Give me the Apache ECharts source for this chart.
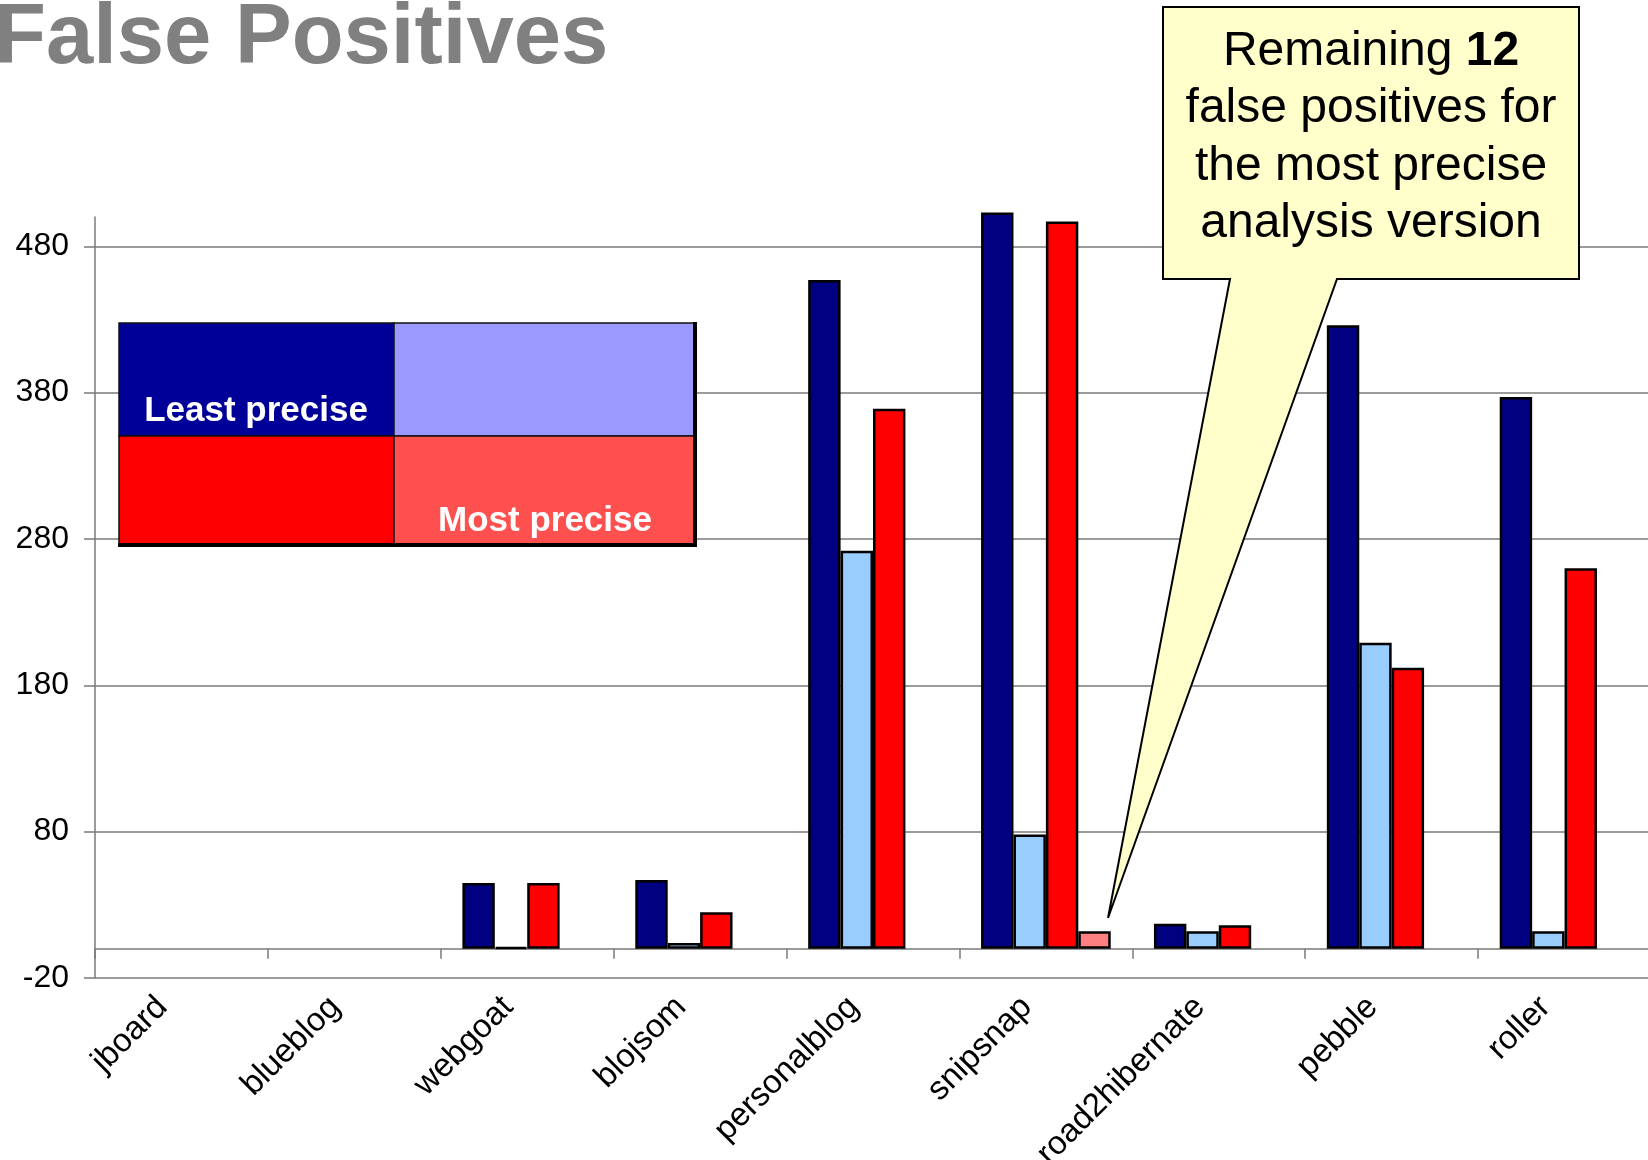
<!DOCTYPE html>
<html>
<head>
<meta charset="utf-8">
<script src="https://cdn.jsdelivr.net/npm/echarts@6/dist/echarts.min.js"></script>
<style>
  html, body { margin: 0; padding: 0; background: #fff; }
  #chart { width: 1648px; height: 1160px; }
</style>
</head>
<body>
<div id="chart"></div>
<script>
// projects on the category axis
var categories = ['jboard', 'blueblog', 'webgoat', 'blojsom', 'personalblog', 'snipsnap', 'road2hibernate', 'pebble', 'roller'];
// false positives per analysis version (least -> most precise); '-' = nothing drawn
var leastPrecise = ['-', '-', 45, 47, 457, 503, 17, 426, 377];
var secondVersion = ['-', '-', 1, 4, 272, 78, 12, 209, 12];
var thirdVersion = ['-', '-', 45, 25, 369, 497, 16, 192, 260];
var mostPrecise = ['-', '-', '-', '-', '-', 12, '-', '-', '-'];
// value axis ticks (the axis itself runs up to 500)
var yTicks = [-20, 80, 180, 280, 380, 480];

var FONT = '"Liberation Sans", Arial, sans-serif';
var gray = '#7a7a7a';

function barSeries(name, color, data) {
    return {
        name: name,
        type: 'bar',
        data: data,
        barGap: '0%',
        barCategoryGap: '25%',
        clip: false,
        itemStyle: { color: color, borderColor: '#000', borderWidth: 2.5 }
    };
}

var chart = echarts.init(document.getElementById('chart'));
chart.setOption({
    animation: false,
    backgroundColor: '#fff',
    title: {
        text: 'False Positives',
        left: -6, top: -3, padding: 0,
        textStyle: { fontSize: 85, fontWeight: 'bold', color: '#808080', fontFamily: FONT, lineHeight: 85 }
    },
    grid: { left: 95, top: 217, width: 1556, height: 761, outerBoundsMode: 'none' },
    xAxis: {
        type: 'category',
        data: categories,
        axisLine: { onZero: true, lineStyle: { color: gray, width: 1.5 } },
        axisTick: { show: true, length: 10, lineStyle: { color: gray, width: 1.5 } },
        axisLabel: {
            rotate: 45, interval: 0, margin: 5, padding: [0, 27, 0, 0],
            fontSize: 33, color: '#000', fontFamily: FONT
        },
        splitLine: { show: false }
    },
    yAxis: {
        type: 'value',
        min: -20, max: 500, interval: 100,
        axisLine: { show: true, lineStyle: { color: gray, width: 1.5 } },
        axisTick: { show: true, length: 11, customValues: yTicks, lineStyle: { color: gray, width: 1.5 } },
        axisLabel: { customValues: yTicks, margin: 26, fontSize: 32, color: '#000', fontFamily: FONT },
        splitLine: { show: true, lineStyle: { color: gray, width: 1.5 } }
    },
    series: [
        barSeries('Least precise', '#000080', leastPrecise),
        barSeries('Version 2', '#99CCFF', secondVersion),
        barSeries('Version 3', '#FF0000', thirdVersion),
        barSeries('Most precise', '#FF8080', mostPrecise)
    ],
    graphic: [
        // colour key block
        { type: 'rect', z: 10, shape: { x: 119, y: 323, width: 275, height: 113 }, style: { fill: '#000099', stroke: '#111', lineWidth: 1.5 } },
        { type: 'rect', z: 10, shape: { x: 394, y: 323, width: 301, height: 113 }, style: { fill: '#9999FF', stroke: '#111', lineWidth: 1.5 } },
        { type: 'rect', z: 10, shape: { x: 119, y: 436, width: 275, height: 108 }, style: { fill: '#FF0000', stroke: '#111', lineWidth: 1.5 } },
        { type: 'rect', z: 10, shape: { x: 394, y: 436, width: 301, height: 108 }, style: { fill: '#FF5050', stroke: '#111', lineWidth: 1.5 } },
        { type: 'polyline', z: 11, shape: { points: [[118, 545], [695, 545], [695, 322]] }, style: { stroke: '#000', lineWidth: 4, fill: null } },
        { type: 'text', z: 12, x: 256, y: 411, style: { text: 'Least precise', fill: '#fff', font: 'bold 35px ' + FONT, align: 'center', verticalAlign: 'middle' } },
        { type: 'text', z: 12, x: 545, y: 521, style: { text: 'Most precise', fill: '#fff', font: 'bold 35px ' + FONT, align: 'center', verticalAlign: 'middle' } },
        // callout
        {
            type: 'polygon', z: 10,
            shape: { points: [[1163, 7], [1579, 7], [1579, 279], [1337, 279], [1108, 918], [1230, 279], [1163, 279]] },
            style: { fill: '#FFFFCC', stroke: '#000', lineWidth: 2 }
        },
        {
            type: 'text', z: 12, x: 1371, y: 23,
            style: {
                text: 'Remaining {b|12}\nfalse positives for\nthe most precise\nanalysis version',
                font: '48px ' + FONT,
                fill: '#000',
                align: 'center',
                verticalAlign: 'top',
                lineHeight: 57.5,
                rich: { b: { fontWeight: 'bold', fontSize: 48, fontFamily: FONT, lineHeight: 57.5 } }
            }
        }
    ]
});
</script>
</body>
</html>
